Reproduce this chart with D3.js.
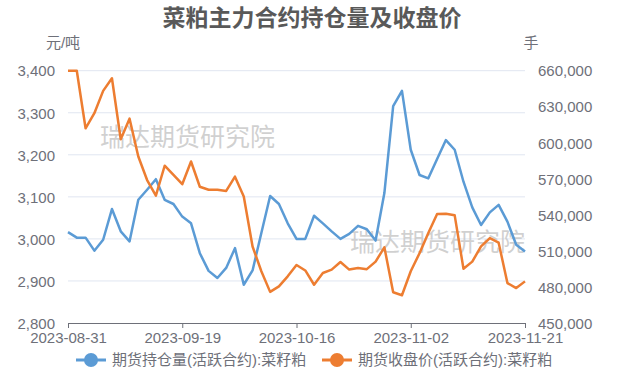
<!DOCTYPE html>
<html>
<head>
<meta charset="utf-8">
<script src="https://cdn.jsdelivr.net/npm/d3@7"></script>
<style>
  body { margin: 0; background: #fff; }
  text { font-family: "Liberation Sans", "Noto Sans CJK SC", sans-serif; }
</style>
</head>
<body>
<div id="chart"></div>
<script>
// trading days, 2023
const dates = [
  "2023-08-31","2023-09-01","2023-09-04","2023-09-05","2023-09-06","2023-09-07","2023-09-08",
  "2023-09-11","2023-09-12","2023-09-13","2023-09-14","2023-09-15","2023-09-18","2023-09-19",
  "2023-09-20","2023-09-21","2023-09-22","2023-09-25","2023-09-26","2023-09-27","2023-09-28",
  "2023-10-09","2023-10-10","2023-10-11","2023-10-12","2023-10-13","2023-10-16","2023-10-17",
  "2023-10-18","2023-10-19","2023-10-20","2023-10-23","2023-10-24","2023-10-25","2023-10-26",
  "2023-10-27","2023-10-30","2023-10-31","2023-11-01","2023-11-02","2023-11-03","2023-11-06",
  "2023-11-07","2023-11-08","2023-11-09","2023-11-10","2023-11-13","2023-11-14","2023-11-15",
  "2023-11-16","2023-11-17","2023-11-20","2023-11-21"
];
// 期货持仓量 (手), right axis
const openInterest = [
  525600,521050,521050,510200,519300,544850,526300,517900,552550,560950,569700,552550,549050,538550,
  532950,508100,493400,487450,495850,512300,481850,493750,524900,555700,549050,532950,520000,520000,
  539250,532950,526300,520000,524200,530850,528050,518600,558150,630600,643200,594200,573200,570400,
  586500,602250,594200,567600,546250,531550,542050,548350,534350,515100,509500
];
// 期货收盘价 (元/吨), left axis
const closePrice = [
  3400,3400,3263,3299,3352,3382,3237,3286,3196,3140,3103,3174,3152,3130,
  3184,3124,3117,3117,3114,3148,3101,2982,2923,2874,2887,2911,2938,2925,
  2891,2919,2927,2945,2927,2931,2928,2946,2980,2873,2866,2923,2966,3014,
  3059,3060,3056,2929,2946,2982,3002,2991,2895,2883,2899
];
const leftTicks = [2800, 2900, 3000, 3100, 3200, 3300, 3400];
const rightTicks = [450000, 480000, 510000, 540000, 570000, 600000, 630000, 660000];
const seriesNames = ["期货持仓量(活跃合约):菜籽粕", "期货收盘价(活跃合约):菜籽粕"];
const colors = ["#5B9BD5", "#ED7D31"];

const width = 625, height = 375;
const margin = {top: 70.7, right: 100, bottom: 52, left: 68};

const svg = d3.select("#chart").append("svg")
  .attr("width", width).attr("height", height);

const x = d3.scalePoint().domain(dates).range([margin.left, width - margin.right]);
const yL = d3.scaleLinear().domain([2800, 3400]).range([height - margin.bottom, margin.top]);
const yR = d3.scaleLinear().domain([450000, 660000]).range([height - margin.bottom, margin.top]);

// title
svg.append("text")
  .attr("x", 312).attr("y", 26)
  .attr("text-anchor", "middle")
  .style("font-size", "23px").style("font-weight", "bold")
  .style("font-family", "'Noto Sans CJK SC', sans-serif")
  .attr("fill", "#595959")
  .text("菜粕主力合约持仓量及收盘价");

// grid
svg.append("g").selectAll("line").data(leftTicks.slice(1)).enter().append("line")
  .attr("x1", margin.left).attr("x2", width - margin.right)
  .attr("y1", d => yL(d)).attr("y2", d => yL(d))
  .attr("stroke", "#E0E6F1").attr("stroke-width", 1);

// watermark
const wm = [[100, 146], [350, 251]];
svg.append("g").selectAll("text").data(wm).enter().append("text")
  .attr("x", d => d[0]).attr("y", d => d[1])
  .style("font-size", "25px")
  .style("font-family", "'Noto Sans CJK SC', sans-serif")
  .attr("fill", "#c8c8c8").attr("fill-opacity", 0.85)
  .text("瑞达期货研究院");

// left axis
const gL = svg.append("g")
  .attr("transform", `translate(${margin.left - 13},0)`)
  .call(d3.axisLeft(yL).tickValues(leftTicks).tickSize(0).tickPadding(0).tickFormat(d3.format(",")));
gL.select(".domain").remove();
gL.selectAll("text").style("font-size", "15px").attr("fill", "#6E7079").attr("dy", "0.35em");

// right axis
const gR = svg.append("g")
  .attr("transform", `translate(${width - margin.right + 13},0)`)
  .call(d3.axisRight(yR).tickValues(rightTicks).tickSize(0).tickPadding(0).tickFormat(d3.format(",")));
gR.select(".domain").remove();
gR.selectAll("text").style("font-size", "15px").attr("fill", "#6E7079").attr("dy", "0.35em");

// x axis
const xTicks = dates.filter((d, i) => i % 13 === 0);
const gX = svg.append("g")
  .attr("transform", `translate(0,${height - margin.bottom})`)
  .call(d3.axisBottom(x).tickValues(xTicks).tickSize(5).tickPadding(4).tickSizeOuter(0));
gX.select(".domain").attr("stroke", "#6E7079").attr("stroke-width", 1.2)
  .attr("d", `M${margin.left},0.5H${width - margin.right}`);
gX.selectAll(".tick line").attr("stroke", "#6E7079");
gX.selectAll("text").style("font-size", "15px").attr("fill", "#6E7079");

// axis names
svg.append("text").attr("x", 63).attr("y", 48).attr("text-anchor", "middle")
  .style("font-size", "15px").attr("fill", "#6E7079").text("元/吨");
svg.append("text").attr("x", 531).attr("y", 48).attr("text-anchor", "middle")
  .style("font-size", "15px").attr("fill", "#6E7079").text("手");

// lines
const lineR = d3.line().x((d, i) => x(dates[i])).y(d => yR(d));
const lineL = d3.line().x((d, i) => x(dates[i])).y(d => yL(d));
svg.append("path").datum(openInterest)
  .attr("d", lineR).attr("fill", "none")
  .attr("stroke", colors[0]).attr("stroke-width", 2.5).attr("stroke-linejoin", "round");
svg.append("path").datum(closePrice)
  .attr("d", lineL).attr("fill", "none")
  .attr("stroke", colors[1]).attr("stroke-width", 2.5).attr("stroke-linejoin", "round");

// legend
const legendX = [76, 322];
const lg = svg.append("g").selectAll("g").data(seriesNames).enter().append("g")
  .attr("transform", (d, i) => `translate(${legendX[i]},360)`);
lg.append("line").attr("x1", 0).attr("x2", 30)
  .attr("stroke", (d, i) => colors[i]).attr("stroke-width", 3);
lg.append("circle").attr("cx", 15).attr("r", 7).attr("fill", (d, i) => colors[i]);
lg.append("text").attr("x", 36).attr("dy", "0.35em")
  .style("font-size", "15px").attr("fill", "#6E7079").text(d => d);
</script>
</body>
</html>
